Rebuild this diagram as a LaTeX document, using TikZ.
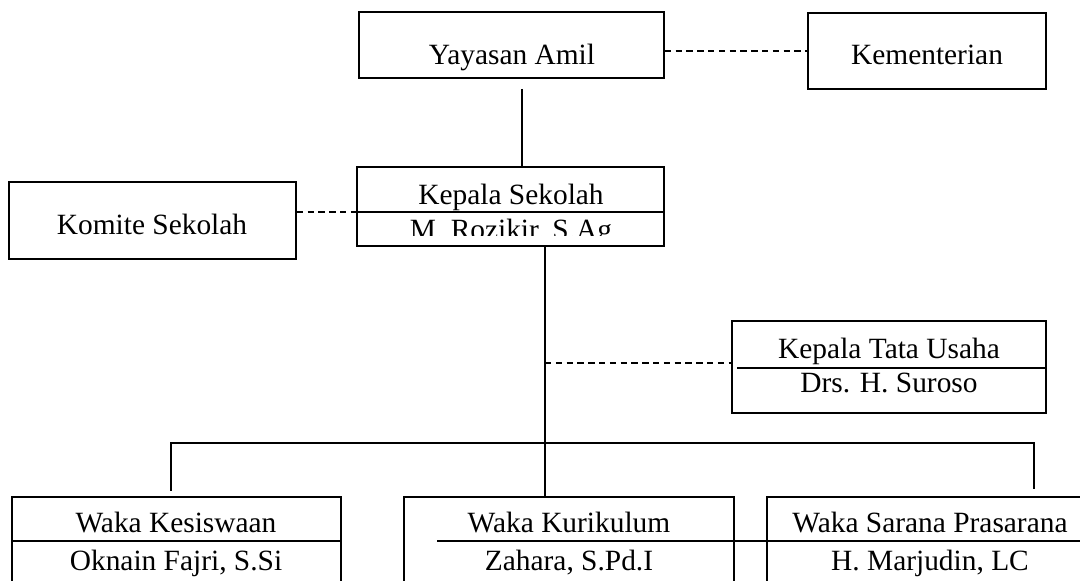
\documentclass[tikz,border=0pt]{standalone}
\usepackage{fontspec}
\setmainfont{Liberation Serif}
\usetikzlibrary{fit}
\begin{document}
\begin{tikzpicture}[x=0.5pt,y=-0.5pt,
  box/.style={draw=black, line width=0.85pt, inner sep=0pt, fill=none},
  txt/.style={anchor=base, inner sep=0pt, font=\fontsize{14.7}{17}\selectfont},
  conn/.style={draw=black, line width=0.85pt},
  dconn/.style={draw=black, line width=0.85pt, dash pattern=on 3.2pt off 2.2pt},
  divider/.style={draw=black, line width=0.85pt}]
\useasboundingbox (0,0) rectangle (1080,581);
\fill[white] (0,0) rectangle (1080,581);

% boxes
\node[box, fit={(359,12) (664,78)}] (yay) {};
\node[box, fit={(808,13) (1046,89)}] (kem) {};
\node[box, fit={(357,167) (664,246)}] (kep) {};
\node[box, fit={(9,182) (296,259)}] (kom) {};
\node[box, fit={(732,321) (1046,413)}] (ktu) {};
\node[box, fit={(12,497) (341,640)}] (kes) {};
\node[box, fit={(404,497) (734,640)}] (kur) {};
\node[box, fit={(767,497) (1110,640)}] (sar) {};

% texts
\node[txt] (yayT) at (512,65) {Yayasan Amil};
\node[txt] (kemT) at (927,65) {Kementerian};
\node[txt] (kepT) at (511,205) {Kepala Sekolah};
\begin{scope}
  \clip (357,213) rectangle (664,236);
  \node[txt] (kepN) at (511,240) {M. Rozikir, S.Ag};
\end{scope}
\node[txt] (komT) at (152,235) {Komite Sekolah};
\node[txt] (ktuT) at (889,359) {Kepala Tata Usaha};
\node[txt] (ktuN) at (889,393) {Drs. H. Suroso};
\node[txt] (kesT) at (176,533) {Waka Kesiswaan};
\node[txt] (kesN) at (176,570) {Oknain Fajri, S.Si};
\node[txt] (kurT) at (569,533) {Waka Kurikulum};
\node[txt] (kurN) at (569,570) {Zahara, S.Pd.I};
\node[txt] (sarT) at (930,533) {Waka Sarana Prasarana};
\node[txt] (sarN) at (930,570) {H. Marjudin, LC};

% dividers
\draw[divider] (kep.west |- 0,212) -- (kep.east |- 0,212);
\draw[divider] (737,368) -- (ktu.east |- 0,368);
\draw[divider] (kes.west |- 0,541) -- (kes.east |- 0,541);
\draw[divider] (437,541) -- (sar.west |- 0,541);
\draw[divider] (sar.west |- 0,541) -- (1080,541);

% coordinates
\coordinate (yayTop) at (522,89);
\coordinate (kepTop) at (522,167);
\coordinate (kepBot) at (545,246);
\coordinate (ktuJ) at (545,363);
\coordinate (busL) at (171,443);
\coordinate (busR) at (1034,443);
\coordinate (kesTop) at (171,491);
\coordinate (sarTop) at (1034,489);

% connectors
\draw[conn] (yayTop) -- (kepTop);
\draw[dconn] (yay.east |- 0,51) -- (kem.west |- 0,51);
\draw[dconn] (kom.east |- 0,212) -- (kep.west |- 0,212);
\draw[conn] (kepBot) -- (kur.north -| kepBot);
\draw[dconn] (ktuJ) -- (ktu.west |- ktuJ);
\draw[conn] (kesTop) -- (busL) -- (busR) -- (sarTop);
\end{tikzpicture}
\end{document}
